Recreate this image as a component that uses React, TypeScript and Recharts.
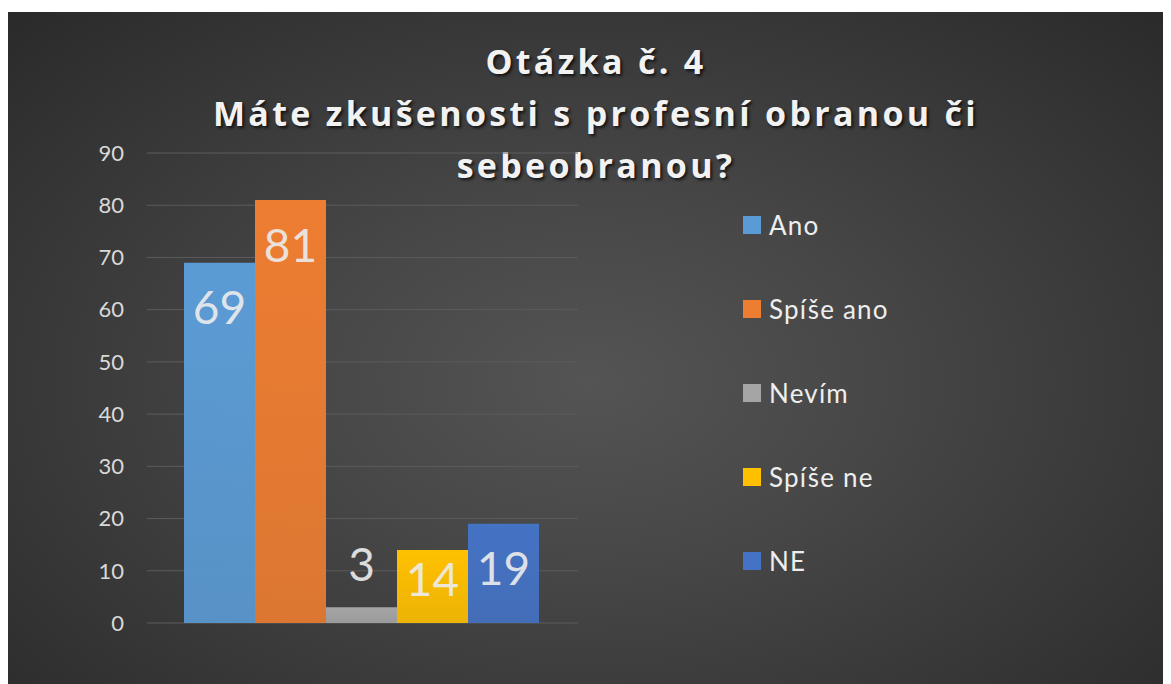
import { BarChart, Bar, XAxis, YAxis, CartesianGrid, LabelList, Legend } from 'recharts';

const categories = ['Ano', 'Spíše ano', 'Nevím', 'Spíše ne', 'NE'];
const values = [69, 81, 3, 14, 19];
const colors = ['#5B9BD5', '#ED7D31', '#A5A5A5', '#FFC000', '#4472C4'];
const yTicks = [0, 10, 20, 30, 40, 50, 60, 70, 80, 90];
const titleLines = ['Otázka č. 4', 'Máte zkušenosti s profesní obranou či', 'sebeobranou?'];

const W = 1163;
const H = 672;

// one row, one key per answer
const row: Record<string, number | string> = { name: 'Otázka č. 4' };
categories.forEach((c, i) => {
  row[c] = values[i];
});
const data = [row];

const ValueLabel = (props: any) => {
  const { x, y, width, height, value } = props;
  // small bars get the label above, like the Excel original
  let cy;
  if (height < 30) {
    cy = y - 44;
  } else {
    cy = Math.min(y + 44, y + height - 45);
  }
  return (
    <text
      x={x + width / 2}
      y={cy}
      textAnchor="middle"
      dominantBaseline="central"
      fill="#ececec"
      fillOpacity={0.92}
      fontFamily="Lato, 'Open Sans', sans-serif"
      fontSize={46}
    >
      {value}
    </text>
  );
};

const LegendBox = () => (
  <div style={{ position: 'absolute', left: 735, top: 171 }}>
    {categories.map((c, i) => (
      <div key={c} style={{ display: 'flex', alignItems: 'center', height: 84 }}>
        <span style={{ width: 18, height: 18, background: colors[i], display: 'inline-block', marginRight: 8 }} />
        <span
          style={{
            color: '#eeeeee',
            fontFamily: "Lato, 'Open Sans', sans-serif",
            fontSize: 26,
            letterSpacing: 1.2,
          }}
        >
          {c}
        </span>
      </div>
    ))}
  </div>
);

export default function App() {
  return (
    <div
      style={{
        position: 'relative',
        width: W,
        height: H,
        marginTop: 4,
        background:
          'radial-gradient(ellipse farthest-corner at 50% 55%, #545454 0%, #474747 35%, #2a2a2a 100%)',
      }}
    >
      {titleLines.map((t, i) => (
        <div
          key={i}
          style={{
            position: 'absolute',
            left: 0,
            width: 1176,
            top: 25 + i * 52,
            textAlign: 'center',
            color: '#f2f2f2',
            fontFamily: "'Open Sans', sans-serif",
            fontWeight: 700,
            fontSize: 34,
            letterSpacing: 3.3,
            lineHeight: '48px',
            textShadow: '2px 2px 3px rgba(0,0,0,0.7)',
          }}
        >
          {t}
        </div>
      ))}
      <BarChart
        width={W}
        height={H}
        data={data}
        margin={{ top: 141, right: 593, bottom: 61, left: 79 }}
        barCategoryGap={37}
        barGap={0}
      >
        <defs>
          {colors.map((c, i) => (
            <linearGradient key={i} id={`g${i}`} x1="0" y1="0" x2="0" y2="1">
              <stop offset="0%" stopColor={c} stopOpacity={1} />
              <stop offset="100%" stopColor={c} stopOpacity={0.9} />
            </linearGradient>
          ))}
        </defs>
        <CartesianGrid vertical={false} stroke="#5c5c5c" strokeWidth={1} />
        <XAxis dataKey="name" hide />
        <YAxis
          width={60}
          domain={[0, 90]}
          ticks={yTicks}
          axisLine={false}
          tickLine={false}
          tickSize={0}
          tickMargin={23}
          tick={{ fill: '#d9d9d9', fontSize: 22, fontFamily: "Lato, 'Open Sans', sans-serif" }}
        />
        <Legend content={() => null} />
        {categories.map((c, i) => (
          <Bar key={c} dataKey={c} fill={`url(#g${i})`} isAnimationActive={false}>
            <LabelList dataKey={c} content={<ValueLabel />} />
          </Bar>
        ))}
      </BarChart>
      <LegendBox />
    </div>
  );
}
